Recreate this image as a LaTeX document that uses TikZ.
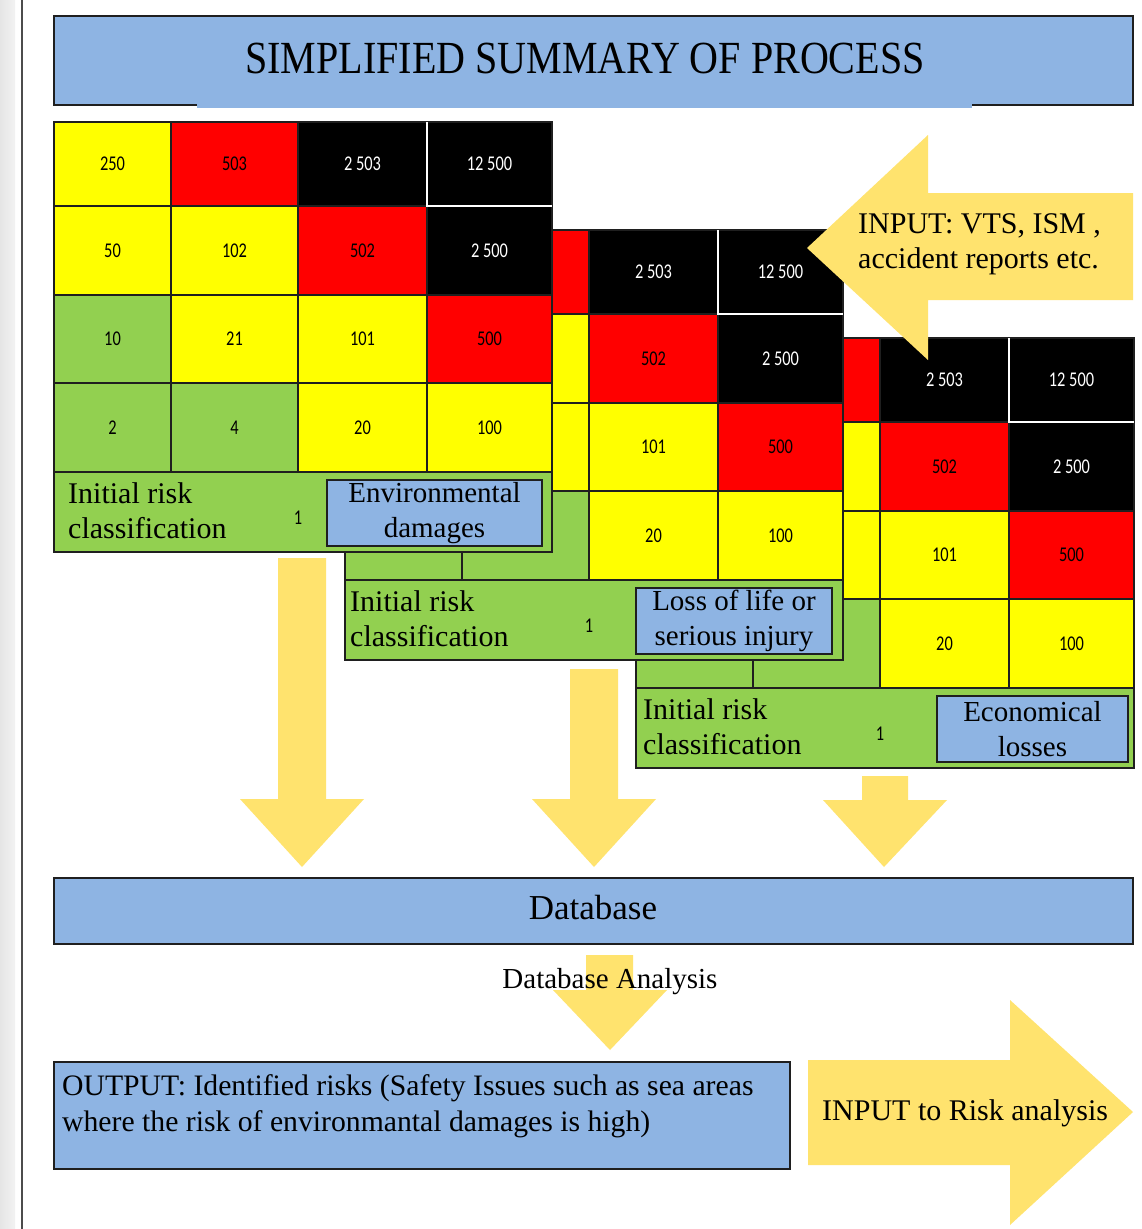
\documentclass[tikz,border=0pt]{standalone}
\usepackage{graphicx}
\usepackage{fontspec}
\setmainfont{Liberation Serif}
\newfontfamily\numfont{Carlito}
\definecolor{hdrblue}{HTML}{8EB4E3}
\definecolor{rgreen}{HTML}{92D050}
\definecolor{ryellow}{HTML}{FFFF00}
\definecolor{rred}{HTML}{FF0000}
\definecolor{arrowyellow}{HTML}{FFE36E}
\definecolor{edgecol}{HTML}{1F1F1F}
\tikzset{
  cellbox/.style={draw=edgecol, line width=1.6pt, inner sep=0pt, outer sep=0pt, anchor=north west},
  numtext/.style={font=\numfont\fontsize{21}{24}\selectfont},
  serifthirty/.style={font=\fontsize{30}{35}\selectfont},
  catfont/.style={font=\fontsize{29}{35}\selectfont},
  blockarrow/.style={fill=arrowyellow, draw=none},
}
\newcommand\riskgrid[7]{%
  \begin{scope}[shift={(#1,#2)}]
    \foreach \rr/\cc/\fc/\tcol/\txt in {
      1/1/ryellow/black/250, 1/2/rred/black/503, 1/3/black/white/2 503, 1/4/black/white/12 500,
      2/1/ryellow/black/50, 2/2/ryellow/black/102, 2/3/rred/black/502, 2/4/black/white/2 500,
      3/1/rgreen/black/10, 3/2/ryellow/black/21, 3/3/ryellow/black/101, 3/4/rred/black/500,
      4/1/rgreen/black/2, 4/2/rgreen/black/4, 4/3/ryellow/black/20, 4/4/ryellow/black/100}{%
      \pgfmathsetmacro\xa{{0,117,244,373,498}[int(\cc-1)]}%
      \pgfmathsetmacro\xb{{0,117,244,373,498}[int(\cc)]}%
      \pgfmathsetmacro\ya{{0,84,173,261,350}[int(\rr-1)]}%
      \pgfmathsetmacro\yb{{0,84,173,261,350}[int(\rr)]}%
      \pgfmathsetmacro\ww{\xb-\xa}%
      \pgfmathsetmacro\hh{\yb-\ya}%
      \node[cellbox, fill=\fc, text=\tcol, numtext, minimum width=\ww pt, minimum height=\hh pt]
        (#3-\rr-\cc) at (\xa,\ya) {\scalebox{0.78}[1]{\txt}};
    }
    \draw[white, line width=1.6pt] (#3-1-4.north west) -- (#3-1-4.south west) -- (#3-1-4.south east);
    \node[cellbox, fill=rgreen, minimum width=498pt, minimum height=80pt] (#3-band) at (0,350) {};
    \pgfmathsetmacro\bw{#6-#5}
    \node[cellbox, fill=hdrblue, minimum width=\bw pt, minimum height=66pt, catfont, align=center] (#3-cat) at (#5,358) {#7};
    \node[serifthirty, anchor=west, align=left, inner sep=0pt] (#3-lbl) at (#4,389) {Initial risk\\classification};
    \node[numtext, inner sep=0pt] (#3-one) at (244,396) {\scalebox{0.78}[1]{1}};
  \end{scope}%
}
\begin{document}
\begin{tikzpicture}[x=1pt, y=-1pt]
  \useasboundingbox (0,0) rectangle (1142,1229);
  \fill[white] (0,0) rectangle (1142,1229);
  \shade[left color=black!10, right color=black!5] (0,0) rectangle (15,1229);
  \draw[line width=1.5pt, black!70] (22,0) -- (22,1229);

  % title
  \node[cellbox, fill=hdrblue, draw=none, minimum width=1079pt, minimum height=89pt] (titlebox) at (54,16) {};
  \fill[hdrblue] (197,104) rectangle (972,108);
  \draw[edgecol, line width=1.6pt] (197,105) -- (54,105) -- (54,16) -- (1133,16) -- (1133,105) -- (972,105);
  \node[font=\fontsize{46}{50}\selectfont] (title) at (585,58) {\scalebox{0.87}[1]{SIMPLIFIED SUMMARY OF PROCESS}};

  % risk matrices (back to front)
  \riskgrid{636}{338}{gC}{7}{301}{492}{Economical\\losses}
  \riskgrid{345}{230}{gB}{5}{291}{487}{Loss of life or\\serious injury}
  \riskgrid{54}{122}{gA}{14}{273}{488}{Environmental\\damages}

  % input arrow
  \fill[blockarrow] (807,248) -- (928,135) -- (928,193) -- (1133,193) -- (1133,300) -- (928,300) -- (928,360) -- cycle;
  \node[serifthirty, anchor=west, align=left, inner sep=0pt] (inputtxt) at (858,244) {INPUT: VTS, ISM ,\\accident reports etc.};

  % down arrows
  \fill[blockarrow] (278,558) -- (326,558) -- (326,799) -- (364,799) -- (302,867) -- (240,799) -- (278,799) -- cycle;
  \fill[blockarrow] (570,669) -- (618,669) -- (618,799) -- (656,799) -- (594,867) -- (532,799) -- (570,799) -- cycle;
  \fill[blockarrow] (862,776) -- (908,776) -- (908,800) -- (947,800) -- (884,867) -- (823,800) -- (862,800) -- cycle;

  % database
  \node[cellbox, fill=hdrblue, minimum width=1079pt, minimum height=66pt] (db) at (54,878) {};
  \node[font=\fontsize{35}{40}\selectfont] (dbtxt) at (593,908) {Database};

  % database analysis
  \fill[blockarrow] (586,955) -- (633,955) -- (633,990) -- (667,990) -- (610,1050) -- (553,990) -- (586,990) -- cycle;
  \node[font=\fontsize{29}{34}\selectfont] (dbatxt) at (610,982) {Database Analysis};

  % output
  \node[cellbox, fill=hdrblue, minimum width=736pt, minimum height=107pt] (out) at (54,1062) {};
  \node[font=\fontsize{29.7}{36}\selectfont, anchor=west, align=left, inner sep=0pt] (outtxt) at (62,1106)
    {OUTPUT: Identified risks (Safety Issues such as sea areas\\where the risk of environmantal damages is high)};

  % input to risk analysis
  \fill[blockarrow] (808,1060) -- (1010,1060) -- (1010,1000) -- (1133,1112) -- (1010,1225) -- (1010,1165) -- (808,1165) -- cycle;
  \node[serifthirty, anchor=west, inner sep=0pt] (risktxt) at (822,1113) {INPUT to Risk analysis};
\end{tikzpicture}
\end{document}
